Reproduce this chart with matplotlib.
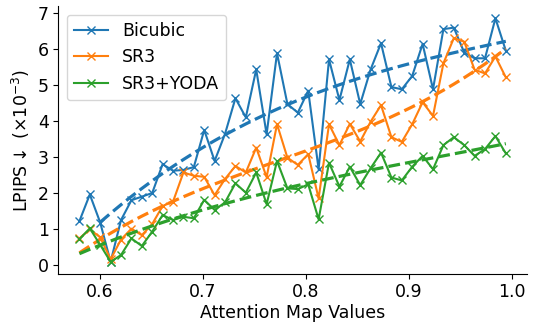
import numpy as np
import matplotlib.pyplot as plt

# attention map bins
x = np.round(0.58 + 0.0101 * np.arange(42), 4)

bicubic = [1.22, 1.96, 1.18, 0.09, 1.25, 1.80, 1.90, 2.00, 2.80, 2.62,
           2.64, 2.72, 3.75, 2.89, 3.64, 4.63, 4.10, 5.43, 3.63, 5.88,
           4.47, 4.23, 4.84, 2.66, 5.71, 4.58, 5.71, 4.47, 5.43, 6.16,
           4.94, 4.88, 5.25, 6.14, 4.88, 6.55, 6.59, 5.90, 5.74, 5.74,
           6.85, 5.95]
sr3 = [0.74, 0.99, 0.77, 0.16, 0.71, 1.01, 0.83, 1.14, 1.64, 1.76,
       2.57, 2.48, 2.45, 1.94, 2.39, 2.75, 2.57, 3.26, 2.44, 3.91,
       2.98, 2.78, 3.08, 1.85, 3.91, 3.33, 3.92, 3.43, 3.98, 4.44,
       3.55, 3.42, 3.91, 4.52, 4.14, 5.60, 6.30, 6.20, 5.42, 5.32,
       5.79, 5.21]
yoda = [0.72, 1.02, 0.56, 0.09, 0.28, 0.74, 0.53, 0.93, 1.39, 1.25,
        1.34, 1.30, 1.81, 1.53, 1.74, 2.27, 2.01, 2.57, 1.69, 2.89,
        2.13, 2.11, 2.24, 1.27, 2.84, 2.18, 2.73, 2.22, 2.69, 3.12,
        2.43, 2.35, 2.73, 3.03, 2.66, 3.33, 3.55, 3.33, 3.03, 3.22,
        3.58, 3.10]

# name, values, colour, first bin where the trend line is drawn
series = [("Bicubic", bicubic, "C0", 2), ("SR3", sr3, "C1", 0),
          ("SR3+YODA", yoda, "C2", 0)]

plt.rcParams['font.size'] = 12.5
fig, ax = plt.subplots(figsize=(5.33, 3.22), dpi=100)

for name, y, c, start in series:
    y = np.array(y)
    ax.plot(x, y, marker='x', color=c, lw=1.5, ms=6, label=name)
    coef = np.polyfit(x, y, 3)
    ax.plot(x[start:], np.polyval(coef, x[start:]), '--', color=c, lw=2.3)

ax.set_xlabel("Attention Map Values", labelpad=2)
ax.set_ylabel(r"LPIPS$\downarrow$ ($\times 10^{-3}$)", labelpad=4)
ax.set_xticks([0.6, 0.7, 0.8, 0.9, 1.0])
ax.set_yticks(range(8))
ax.tick_params(pad=3)
ax.spines['top'].set_visible(False)
ax.spines['right'].set_visible(False)
ax.legend(loc='upper left')
fig.subplots_adjust(left=0.109, right=0.989, bottom=0.149, top=0.981)
fig.savefig("out.png", dpi=100)
